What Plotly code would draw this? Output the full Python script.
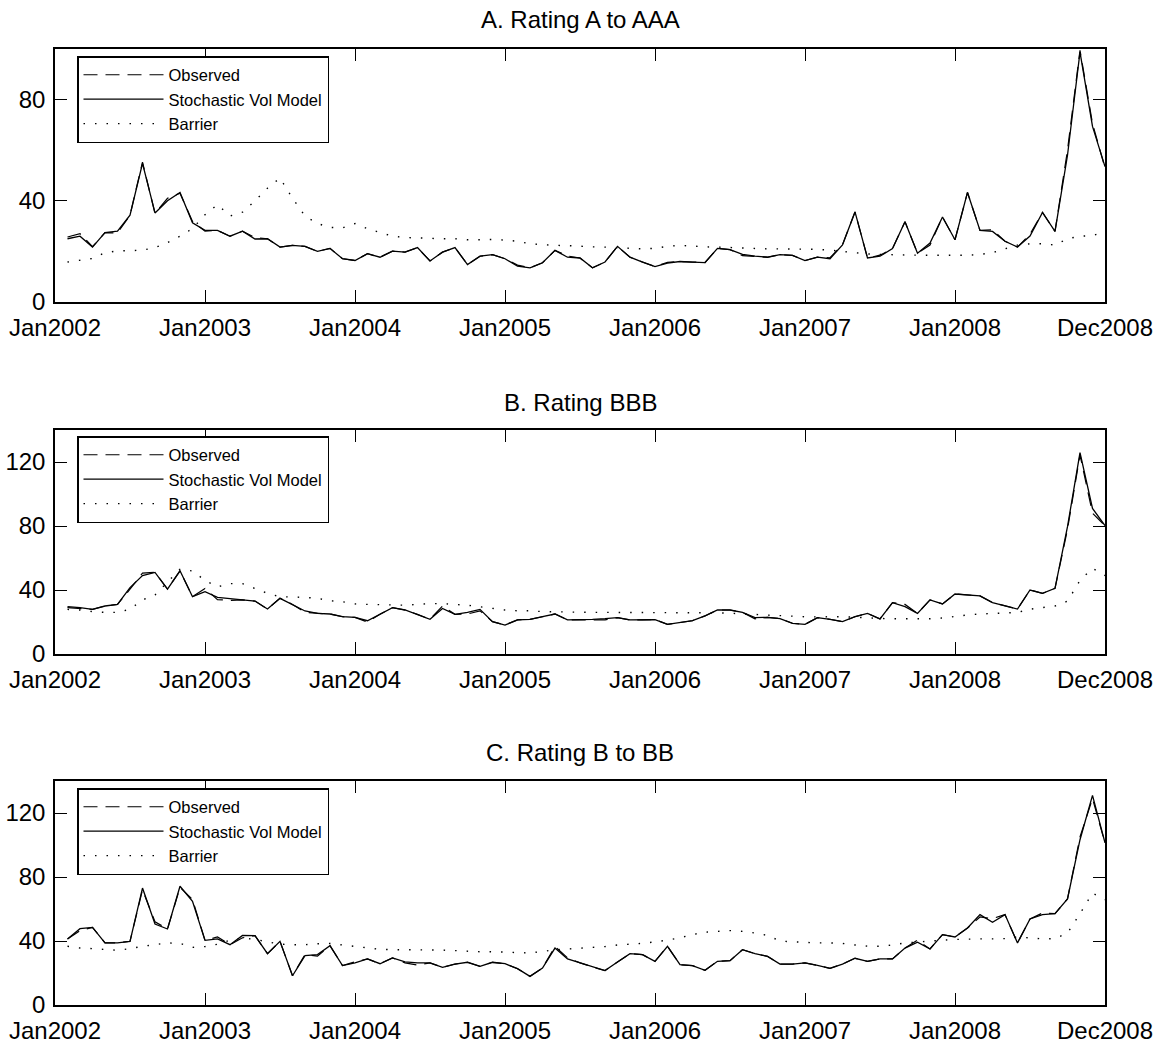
import plotly.graph_objects as go

# Month index: Jan2002 = 0 ... Dec2008 = 84; series run from 1 to 84
months = list(range(1, 85))
tick_pos = [0, 12, 24, 36, 48, 60, 72, 84]
tick_text = ["Jan2002", "Jan2003", "Jan2004", "Jan2005", "Jan2006",
             "Jan2007", "Jan2008", "Dec2008"]

# ---- Panel A: Rating A to AAA ----
a_model = [25.0, 26.0, 21.7, 27.4, 28.0, 34.3, 54.8, 35.2, 40.0, 43.3,
           31.3, 28.3, 28.3, 26.0, 28.0, 24.9, 25.0, 21.7, 22.4, 22.0,
           20.0, 21.2, 17.1, 16.4, 19.1, 17.7, 20.1, 19.7, 21.5, 16.2,
           19.7, 21.5, 14.8, 18.1, 18.7, 17.1, 14.2, 13.5, 15.5, 20.4,
           17.7, 17.4, 13.5, 15.8, 22.0, 17.7, 15.8, 14.0, 15.4, 16.0,
           15.8, 15.6, 21.2, 20.7, 18.8, 18.1, 17.7, 18.7, 18.4, 16.4,
           17.7, 17.1, 22.6, 35.6, 17.4, 18.1, 21.1, 31.7, 19.3, 23.3,
           33.6, 24.6, 43.3, 28.3, 27.9, 24.0, 21.7, 26.1, 35.4, 27.9,
           58.0, 98.8, 69.4, 53.5]
a_obs = [25.7, 27.0, 21.9, 27.4, 27.3, 34.3, 55.3, 35.0, 41.0, 43.0,
         31.8, 28.0, 28.3, 26.0, 28.0, 25.5, 25.0, 21.7, 22.4, 22.0,
         20.0, 21.2, 17.1, 16.4, 19.1, 17.7, 20.1, 19.7, 21.5, 16.2,
         19.7, 21.5, 14.8, 18.1, 18.7, 17.1, 14.6, 13.5, 15.5, 20.4,
         18.2, 17.4, 13.5, 15.8, 22.0, 17.7, 15.8, 14.0, 15.7, 16.0,
         15.8, 15.6, 21.2, 20.7, 18.3, 18.1, 17.7, 18.7, 18.4, 16.4,
         17.7, 17.5, 22.6, 35.6, 17.4, 18.5, 21.1, 31.7, 19.3, 22.5,
         33.6, 24.6, 43.3, 28.3, 28.5, 24.0, 21.7, 26.8, 35.4, 27.9,
         60.0, 99.5, 70.5, 53.0]
a_barrier = [15.8, 16.5, 17.2, 19.5, 20.2, 20.3, 20.5, 21.5, 23.5, 26.0,
             29.0, 34.5, 38.5, 34.0, 35.5, 40.0, 45.0, 49.0, 41.0, 34.0,
             31.0, 29.5, 29.3, 31.0, 29.0, 27.5, 26.0, 25.5, 25.3, 25.0,
             25.0, 25.0, 24.6, 24.6, 24.7, 24.5, 24.0, 23.0, 22.6, 22.4,
             22.3, 22.0, 21.8, 21.7, 21.5, 21.0, 21.0, 21.2, 22.0, 22.4,
             22.0, 21.8, 21.7, 21.5, 21.2, 21.0, 21.0, 21.0, 21.0, 21.0,
             20.8, 20.5, 20.0, 19.3, 19.0, 18.8, 18.6, 18.5, 18.5, 18.5,
             18.5, 18.4, 18.5, 18.8, 19.5, 21.0, 22.5, 23.0, 23.0, 22.5,
             25.0, 26.0, 26.2, 28.0]

# ---- Panel B: Rating BBB ----
b_model = [29.6, 29.0, 27.9, 30.0, 31.0, 41.5, 49.0, 51.0, 40.6, 52.0,
           35.8, 39.0, 35.4, 34.8, 33.8, 33.1, 28.1, 34.8, 31.0, 26.9,
           25.4, 25.0, 23.3, 22.9, 20.8, 24.8, 29.0, 27.5, 24.8, 21.7,
           28.5, 24.8, 26.0, 27.9, 20.2, 18.1, 21.3, 21.7, 23.3, 25.0,
           21.3, 21.3, 21.7, 22.1, 22.7, 21.3, 21.3, 21.5, 18.5, 19.6,
           20.8, 23.8, 27.5, 27.5, 26.0, 22.7, 22.9, 22.1, 19.2, 18.5,
           22.7, 21.7, 20.2, 23.3, 25.4, 21.9, 32.1, 29.6, 25.4, 33.8,
           31.3, 37.5, 36.9, 36.3, 32.1, 30.0, 28.1, 40.0, 37.9, 41.0,
           79.6, 125.8, 91.0, 80.2]
b_obs = [29.0, 28.6, 27.9, 30.0, 31.0, 40.5, 50.5, 51.0, 40.6, 52.0,
         35.8, 41.0, 34.0, 33.5, 33.8, 33.1, 28.1, 34.8, 31.0, 26.0,
         25.4, 25.0, 23.3, 22.9, 20.0, 24.8, 29.0, 27.5, 24.8, 21.7,
         30.0, 24.8, 25.0, 27.0, 20.2, 18.1, 21.3, 21.7, 23.3, 25.0,
         21.3, 21.3, 21.7, 21.3, 22.7, 21.3, 21.3, 21.5, 18.5, 19.6,
         20.8, 23.8, 27.5, 27.5, 26.0, 22.0, 22.9, 22.1, 19.2, 18.5,
         22.7, 21.7, 20.2, 23.3, 25.4, 21.9, 32.1, 31.0, 25.4, 33.8,
         31.3, 37.5, 36.9, 36.3, 32.1, 30.0, 28.1, 40.0, 37.9, 41.0,
         78.0, 124.5, 88.0, 80.2]
b_barrier = [27.9, 27.5, 26.5, 26.0, 26.0, 28.0, 33.8, 36.9, 45.0, 52.9,
             51.9, 46.0, 42.0, 44.0, 44.0, 41.0, 37.9, 35.8, 35.8, 35.4,
             34.8, 33.3, 32.7, 31.3, 31.0, 30.8, 30.5, 30.5, 31.0, 31.5,
             31.5, 31.0, 30.5, 29.5, 28.5, 27.5, 27.0, 27.0, 26.5, 26.3,
             26.0, 26.0, 26.0, 26.0, 26.0, 26.0, 26.0, 26.0, 25.8, 25.8,
             25.8, 25.8, 25.7, 25.5, 25.0, 24.6, 24.3, 24.0, 23.5, 23.3,
             23.2, 23.3, 23.3, 23.0, 22.5, 22.2, 22.0, 22.0, 22.0, 22.0,
             22.5, 23.5, 24.4, 25.0, 25.4, 25.5, 26.0, 28.0, 29.0, 30.0,
             33.0, 46.0, 53.5, 49.0]

# ---- Panel C: Rating B to BB ----
c_model = [41.3, 47.7, 48.5, 38.8, 38.8, 39.8, 73.1, 50.6, 47.5, 74.2,
           64.8, 40.4, 41.3, 37.7, 43.5, 43.3, 32.1, 39.8, 18.3, 30.8,
           31.5, 37.1, 24.6, 26.3, 28.8, 25.8, 29.4, 26.9, 26.3, 26.3,
           23.5, 25.6, 26.7, 24.2, 26.7, 25.8, 22.7, 17.9, 23.1, 35.6,
           28.8, 26.3, 23.8, 21.5, 26.9, 32.1, 31.5, 27.3, 36.7, 25.2,
           24.6, 21.7, 27.3, 27.7, 34.6, 32.1, 30.4, 25.6, 25.6, 26.3,
           24.8, 22.9, 25.6, 29.2, 27.3, 28.8, 28.8, 35.6, 39.2, 35.0,
           44.0, 42.5, 48.1, 56.5, 51.7, 56.5, 38.8, 53.8, 56.5, 57.1,
           66.3, 103.3, 131.0, 101.3]
c_obs = [41.3, 46.5, 48.5, 38.8, 38.8, 39.8, 72.0, 52.0, 47.5, 73.5,
         66.0, 40.4, 42.5, 37.7, 42.0, 43.3, 32.1, 39.8, 18.3, 31.5,
         30.5, 37.1, 24.6, 27.0, 28.8, 25.8, 29.4, 26.3, 25.0, 26.3,
         23.5, 25.6, 26.7, 24.2, 26.7, 25.8, 22.7, 17.9, 23.1, 36.5,
         29.5, 26.3, 23.8, 21.5, 26.9, 32.1, 31.5, 27.3, 36.7, 25.2,
         24.6, 21.7, 27.3, 27.7, 34.6, 32.1, 30.4, 25.6, 25.6, 26.3,
         24.8, 22.9, 25.6, 29.2, 27.3, 28.8, 28.8, 35.6, 40.5, 35.0,
         44.0, 42.5, 48.1, 55.0, 54.0, 56.5, 38.8, 53.8, 57.5, 57.1,
         66.3, 105.0, 129.0, 101.3]
c_barrier = [36.7, 35.6, 35.2, 34.6, 34.2, 35.2, 36.7, 37.7, 38.8, 38.5,
             36.0, 36.5, 38.0, 40.5, 41.9, 41.0, 39.5, 38.0, 37.7, 37.7,
             38.3, 38.5, 37.5, 36.7, 35.8, 34.8, 34.6, 34.6, 34.5, 34.4,
             34.3, 34.0, 33.6, 33.3, 33.3, 33.0, 32.8, 32.5, 33.5, 34.5,
             35.0, 35.5, 35.8, 36.5, 37.5, 38.0, 38.5, 39.5, 40.5, 42.0,
             44.0, 45.5, 46.0, 46.5, 46.0, 45.0, 43.5, 40.0, 39.5, 39.0,
             38.8, 38.8, 38.5, 37.5, 36.8, 36.7, 37.5, 38.8, 39.5, 40.0,
             40.5, 41.0, 41.3, 41.3, 41.3, 41.5, 42.5, 42.0, 41.3, 41.5,
             45.0, 57.0, 70.0, 65.8]

panels = [
    ("A. Rating A to AAA", a_obs, a_model, a_barrier, [0, 100], [0, 40, 80]),
    ("B. Rating BBB", b_obs, b_model, b_barrier, [0, 140], [0, 40, 80, 120]),
    ("C. Rating B to BB", c_obs, c_model, c_barrier, [0, 140], [0, 40, 80, 120]),
]

W, H = 1166, 1044
plot_left, plot_right = 55, 1105
# (top, bottom) pixel rows of each plot box, title centre row, legend top row
boxes = [(49, 302), (430, 654), (781, 1005)]
title_rows = [19, 402, 752]
legend_tops = [56, 436, 788]

FONT = "Liberation Sans, Arial, Helvetica, sans-serif"
TICK_SIZE = 24

fig = go.Figure()
layout = dict(
    width=W, height=H,
    margin=dict(l=0, r=0, t=0, b=0, autoexpand=False),
    paper_bgcolor="white", plot_bgcolor="white",
    font=dict(family=FONT, size=TICK_SIZE, color="black"),
    showlegend=True,
    annotations=[],
)

for i, (title, obs, model, barrier, yrange, yticks) in enumerate(panels):
    n = "" if i == 0 else str(i + 1)
    xa, ya = "x" + n, "y" + n
    leg = "legend" + n
    fig.add_trace(go.Scatter(x=months, y=obs, mode="lines", name="Observed",
                             line=dict(color="black", width=1.2, dash="14px,8px"),
                             xaxis=xa, yaxis=ya, legend=leg))
    fig.add_trace(go.Scatter(x=months, y=model, mode="lines",
                             name="Stochastic Vol Model",
                             line=dict(color="black", width=1.3),
                             xaxis=xa, yaxis=ya, legend=leg))
    fig.add_trace(go.Scatter(x=months, y=barrier, mode="lines", name="Barrier",
                             line=dict(color="black", width=1.4, dash="1.5px,10px"),
                             xaxis=xa, yaxis=ya, legend=leg))

    top, bottom = boxes[i]
    ydom = [(H - bottom) / H, (H - top) / H]
    xdom = [plot_left / W, plot_right / W]
    layout["xaxis" + n] = dict(
        domain=xdom, anchor=ya, range=[0, 84],
        tickmode="array", tickvals=tick_pos, ticktext=tick_text,
        ticks="inside", ticklen=12, tickwidth=1, tickcolor="black",
        showline=True, linecolor="black", linewidth=1.5, mirror="allticks",
        showgrid=False, zeroline=False, automargin=False,
        tickfont=dict(size=TICK_SIZE), ticklabelstandoff=3,
    )
    layout["yaxis" + n] = dict(
        domain=ydom, anchor=xa, range=yrange,
        tickmode="array", tickvals=yticks,
        ticks="inside", ticklen=12, tickwidth=1, tickcolor="black",
        showline=True, linecolor="black", linewidth=1.5, mirror="allticks",
        showgrid=False, zeroline=False, automargin=False,
        tickfont=dict(size=TICK_SIZE), ticklabelstandoff=3,
    )
    layout[leg] = dict(
        x=77 / W, y=(H - legend_tops[i]) / H, xanchor="left", yanchor="top",
        bordercolor="black", borderwidth=1.5, bgcolor="white",
        font=dict(family=FONT, size=16.5, color="black"),
        itemwidth=80, tracegroupgap=0, traceorder="normal",
    )
    layout["annotations"].append(dict(
        text=title, xref="paper", yref="paper",
        x=(plot_left + plot_right) / 2 / W, y=(H - title_rows[i]) / H,
        xanchor="center", yanchor="middle", showarrow=False,
        font=dict(family=FONT, size=TICK_SIZE, color="black"),
    ))

fig.update_layout(**layout)
fig.write_html("out.html")
